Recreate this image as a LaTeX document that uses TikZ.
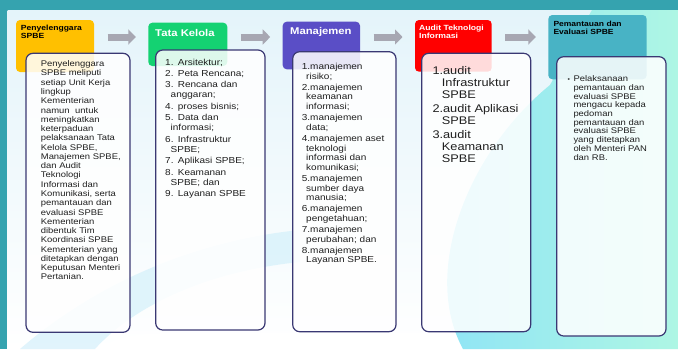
\documentclass[tikz,border=0pt]{standalone}
\usepackage{fontspec}
\setmainfont{Liberation Sans}[FakeStretch=1.15]
\usetikzlibrary{arrows.meta}
\definecolor{frameteal}{HTML}{35A3AF}
\definecolor{sunyellow}{HTML}{FFC000}
\definecolor{leafgreen}{HTML}{14D272}
\definecolor{headpurple}{HTML}{5A4EC6}
\definecolor{alertred}{HTML}{FF0000}
\definecolor{seateal}{HTML}{48B3C5}
\definecolor{cardline}{HTML}{3A3873}
\definecolor{arrowgray}{HTML}{A7A7B2}
\definecolor{skycyan}{HTML}{8DE3F7}
\definecolor{mint}{HTML}{AEF6E4}
\definecolor{paleblue}{HTML}{CDEEFA}
\definecolor{topwash}{HTML}{E4F4FA}
\definecolor{bodyink}{HTML}{1F1F1F}

\begin{document}
\begin{tikzpicture}[x=1pt,y=-1pt,
  head/.style={rounded corners=4pt,inner sep=0pt,outer sep=0pt},
  card/.style={rounded corners=7pt,draw=cardline,line width=1.2pt,fill=white,fill opacity=.86,inner sep=0pt,outer sep=0pt},
  title/.style={anchor=base west,inner sep=0pt,align=left,text width=95pt},
  body/.style={anchor=base west,inner sep=0pt,align=left,text width=110pt,text=bodyink}]
\useasboundingbox (0,0) rectangle (678,349);
% background
\fill[frameteal] (0,0) rectangle (678,349);
\shade[top color=topwash,bottom color=white] (7.5,10) rectangle (678,349);
\fill[paleblue,opacity=.6] (20,349) .. controls (100,280) and (200,240) .. (300,230) -- (300,262) .. controls (200,272) and (130,310) .. (95,349) -- cycle;
\fill[white] (100,349) .. controls (115,336) and (140,333) .. (175,333) -- (470,333) -- (470,349) -- cycle;
\shade[left color=skycyan,right color=mint] (463,349) .. controls (420,270) and (470,150) .. (550,85) -- (592,10) -- (678,10) -- (678,349) -- cycle;

% headers
\node[head,fill=sunyellow,minimum width=78pt,minimum height=52pt] (penyelenggara) at (55,46) {};
\node[head,fill=leafgreen,minimum width=79pt,minimum height=43.3pt] (tatakelola) at (187.8,44.35) {};
\node[head,fill=headpurple,minimum width=77.3pt,minimum height=47.6pt] (manajemen) at (321.35,45.5) {};
\node[head,fill=alertred,minimum width=76.7pt,minimum height=51.7pt] (audit) at (453.35,45.85) {};
\node[head,fill=seateal,minimum width=98.4pt,minimum height=64.3pt] (pemantauan) at (597.5,47.15) {};

\coordinate (arrowrow) at (0,37);
\foreach \a/\b in {penyelenggara/tatakelola,tatakelola/manajemen,manajemen/audit,audit/pemantauan}{\draw[-{Triangle[width=15pt,length=7.5pt]},line width=7pt,draw=arrowgray,shorten <=13.5pt,shorten >=12.5pt] (\a.east |- arrowrow) -- (\b.west |- arrowrow);}

% cards
\node[card,minimum width=104pt,minimum height=279pt] (penyelenggaraIsi) at (78,192.8) {};
\node[card,minimum width=109.3pt,minimum height=280pt] (tatakelolaIsi) at (210.35,190) {};
\node[card,minimum width=103.3pt,minimum height=280pt] (manajemenIsi) at (344.35,191.7) {};
\node[card,minimum width=109pt,minimum height=278.4pt] (auditIsi) at (476.2,192.5) {};
\node[card,minimum width=109.3pt,minimum height=279.3pt] (pemantauanIsi) at (611.35,196.35) {};

% titles
\node[title,font=\bfseries\fontsize{7.45}{7.6}\selectfont,text=black] (penyelenggaraJudul) at (20.7,30.7) {Penyelenggara\\SPBE};
\node[title,font=\bfseries\fontsize{9.8}{10}\selectfont,text=white] (tatakelolaJudul) at (155,36) {Tata Kelola};
\node[title,font=\bfseries\fontsize{9.8}{10}\selectfont,text=white] (manajemenJudul) at (290,34.3) {Manajemen};
\node[title,font=\bfseries\fontsize{7.5}{7.6}\selectfont,text=white] (auditJudul) at (419,30.7) {Audit Teknologi\\Informasi};
\node[title,font=\bfseries\fontsize{7.4}{7.6}\selectfont,text=black] (pemantauanJudul) at (553.3,26.7) {Pemantauan dan\\Evaluasi SPBE};

% texts
\node[body,font=\fontsize{8.2}{9.27}\selectfont] (penyelenggaraTeks) at (40.7,66.7) {Penyelenggara\\SPBE meliputi\\setiap Unit Kerja\\lingkup\\Kementerian\\namun~ untuk\\meningkatkan\\keterpaduan\\pelaksanaan Tata\\Kelola SPBE,\\Manajemen SPBE,\\dan Audit\\Teknologi\\Informasi dan\\Komunikasi, serta\\pemantauan dan\\evaluasi SPBE\\Kementerian\\dibentuk Tim\\Koordinasi SPBE\\Kementerian yang\\ditetapkan dengan\\Keputusan Menteri\\Pertanian.};
\node[body,font=\fontsize{8.7}{10.3}\selectfont] (tatakelolaTeks) at (165,65) {1. Arsitektur;\\[1pt]2. Peta Rencana;\\[1pt]3. Rencana dan\\\hspace*{5.5pt}anggaran;\\[1pt]4. proses bisnis;\\[1pt]5. Data dan\\\hspace*{5.5pt}informasi;\\[1pt]6. Infrastruktur\\\hspace*{5.5pt}SPBE;\\[1pt]7. Aplikasi SPBE;\\[1pt]8. Keamanan\\\hspace*{5.5pt}SPBE; dan\\[1pt]9. Layanan SPBE};
\node[body,font=\fontsize{8.7}{9.7}\selectfont] (manajemenTeks) at (301.7,69.5) {1.manajemen\\\hspace*{4.3pt}risiko;\\[1.3pt]2.manajemen\\\hspace*{4.3pt}keamanan\\\hspace*{4.3pt}informasi;\\[1.3pt]3.manajemen\\\hspace*{4.3pt}data;\\[1.3pt]4.manajemen aset\\\hspace*{4.3pt}teknologi\\\hspace*{4.3pt}informasi dan\\\hspace*{4.3pt}komunikasi;\\[1.3pt]5.manajemen\\\hspace*{4.3pt}sumber daya\\\hspace*{4.3pt}manusia;\\[1.3pt]6.manajemen\\\hspace*{4.3pt}pengetahuan;\\[1.3pt]7.manajemen\\\hspace*{4.3pt}perubahan; dan\\[1.3pt]8.manajemen\\\hspace*{4.3pt}Layanan SPBE.};
\node[body,font=\fontsize{11.1}{12.2}\selectfont] (auditTeks) at (432.3,74.3) {1.audit\\\hspace*{9.4pt}Infrastruktur\\\hspace*{9.4pt}SPBE\\[1.6pt]2.audit Aplikasi\\\hspace*{9.4pt}SPBE\\[1.6pt]3.audit\\\hspace*{9.4pt}Keamanan\\\hspace*{9.4pt}SPBE};
\node[body,font=\fontsize{8.2}{8.7}\selectfont] (pemantauanTeks) at (573.3,81.7) {\llap{{\fontsize{6}{6}\selectfont •}\hspace{3.5pt}}Pelaksanaan\\pemantauan dan\\evaluasi SPBE\\mengacu kepada\\pedoman\\pemantauan dan\\evaluasi SPBE\\yang ditetapkan\\oleh Menteri PAN\\dan RB.};
\end{tikzpicture}
\end{document}
